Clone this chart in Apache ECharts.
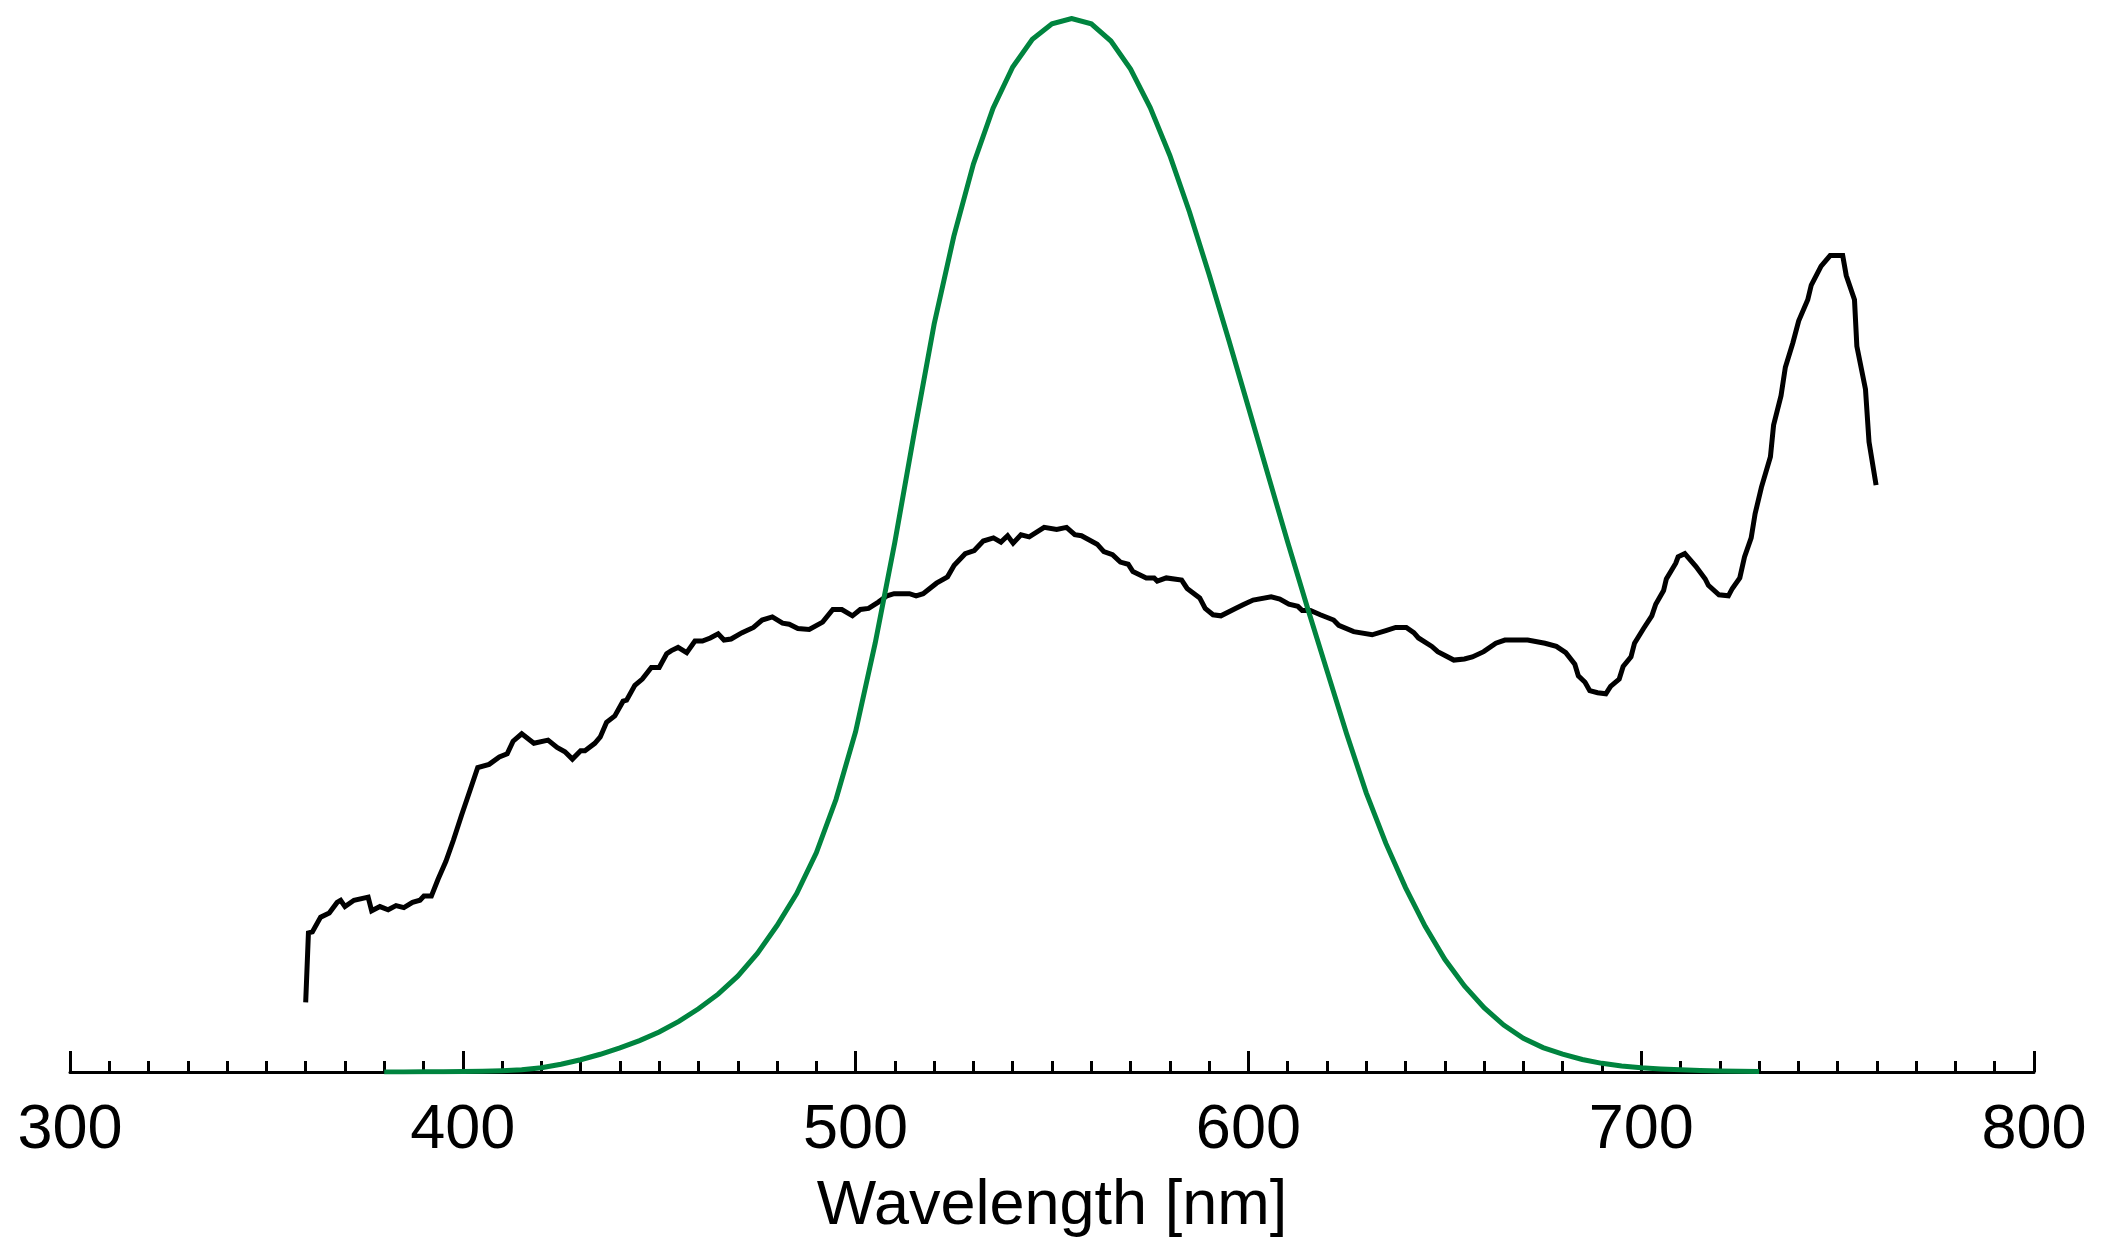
<!DOCTYPE html>
<html>
<head>
<meta charset="utf-8">
<title>Spectrum and photopic luminosity</title>
<script src="https://cdn.jsdelivr.net/npm/echarts@6/dist/echarts.min.js"></script>
<style>
  html, body { margin: 0; padding: 0; background: #ffffff; }
  #chart { width: 2117px; height: 1243px; }
</style>
</head>
<body>
<div id="chart"></div>
<script>
// Measured spectrum (relative units), wavelength in nm
const spectrumWavelength = [
  360.0, 360.7, 361.7, 363.8, 366.0, 368.0, 368.9, 370.0, 372.3, 375.9,
  376.8, 378.9, 381.0, 383.0, 385.0, 387.2, 389.1, 390.1, 392.0, 393.7,
  395.7, 397.6, 399.7, 401.8, 403.8, 406.7, 409.3, 411.3, 412.8, 415.0,
  418.1, 421.7, 424.0, 426.0, 427.9, 430.0, 431.1, 433.6, 435.0, 436.6,
  438.7, 440.8, 441.7, 443.8, 445.7, 448.0, 450.0, 451.9, 453.1, 454.8,
  457.0, 459.1, 461.0, 463.0, 465.0, 466.5, 468.3, 471.1, 474.0, 476.2,
  478.8, 481.4, 483.1, 485.3, 488.2, 491.6, 494.2, 496.5, 499.2, 501.2,
  503.3, 505.8, 508.0, 509.8, 513.7, 515.4, 517.2, 520.6, 523.4, 525.1,
  527.9, 530.2, 532.5, 535.1, 537.0, 538.7, 540.1, 542.1, 544.2, 548.0,
  551.2, 553.7, 555.8, 557.5, 561.5, 563.2, 565.4, 567.4, 569.4, 570.6,
  574.0, 576.0, 576.8, 579.1, 583.0, 584.4, 587.6, 589.0, 591.0, 593.0,
  596.7, 598.9, 601.2, 605.8, 608.0, 610.3, 612.6, 613.7, 615.8, 618.3,
  621.7, 623.0, 626.8, 631.5, 635.0, 637.5, 640.2, 642.1, 643.3, 646.7,
  648.2, 652.3, 655.0, 657.0, 659.9, 663.0, 665.3, 671.1, 675.5, 678.4,
  680.8, 683.1, 684.0, 685.7, 686.9, 688.9, 691.0, 692.2, 694.4, 695.4,
  697.4, 698.3, 700.6, 702.7, 703.7, 705.7, 706.4, 708.8, 709.4, 711.1,
  713.9, 716.3, 717.1, 719.8, 722.2, 723.2, 725.1, 726.3, 728.0, 729.0,
  730.6, 732.9, 733.7, 735.6, 736.7, 738.6, 740.1, 742.4, 743.3, 745.8,
  748.1, 751.3, 752.2, 754.3, 754.9, 757.1, 758.0, 759.8
];
const spectrumValue = [
  0.066, 0.132, 0.133, 0.147, 0.151, 0.161, 0.163, 0.157, 0.163, 0.166,
  0.153, 0.157, 0.154, 0.158, 0.156, 0.161, 0.163, 0.167, 0.167, 0.183,
  0.200, 0.220, 0.244, 0.267, 0.289, 0.292, 0.299, 0.302, 0.314, 0.321,
  0.312, 0.315, 0.308, 0.304, 0.297, 0.305, 0.305, 0.312, 0.318, 0.332,
  0.338, 0.352, 0.353, 0.367, 0.373, 0.384, 0.384, 0.397, 0.400, 0.403,
  0.398, 0.409, 0.409, 0.412, 0.416, 0.410, 0.411, 0.417, 0.422, 0.429,
  0.432, 0.426, 0.425, 0.421, 0.420, 0.427, 0.439, 0.439, 0.433, 0.439,
  0.440, 0.446, 0.452, 0.454, 0.454, 0.452, 0.454, 0.464, 0.470, 0.481,
  0.492, 0.495, 0.504, 0.507, 0.503, 0.509, 0.502, 0.510, 0.508, 0.517,
  0.515, 0.517, 0.510, 0.509, 0.501, 0.494, 0.491, 0.484, 0.482, 0.475,
  0.469, 0.469, 0.466, 0.469, 0.467, 0.459, 0.450, 0.440, 0.434, 0.433,
  0.440, 0.444, 0.448, 0.451, 0.449, 0.444, 0.442, 0.438, 0.438, 0.434,
  0.429, 0.424, 0.418, 0.415, 0.419, 0.422, 0.422, 0.417, 0.412, 0.404,
  0.399, 0.391, 0.392, 0.394, 0.399, 0.407, 0.410, 0.410, 0.407, 0.404,
  0.398, 0.387, 0.376, 0.370, 0.362, 0.360, 0.359, 0.366, 0.373, 0.385,
  0.394, 0.407, 0.421, 0.433, 0.444, 0.457, 0.468, 0.483, 0.489, 0.492,
  0.480, 0.468, 0.462, 0.453, 0.452, 0.459, 0.469, 0.489, 0.507, 0.530,
  0.555, 0.584, 0.614, 0.642, 0.669, 0.692, 0.713, 0.733, 0.747, 0.765,
  0.775, 0.775, 0.756, 0.733, 0.689, 0.648, 0.598, 0.557
];

// Photopic luminosity function V(λ), 5 nm steps
const luminosityWavelength = [
  380, 385, 390, 395, 400, 405, 410, 415, 420, 425,
  430, 435, 440, 445, 450, 455, 460, 465, 470, 475,
  480, 485, 490, 495, 500, 505, 510, 515, 520, 525,
  530, 535, 540, 545, 550, 555, 560, 565, 570, 575,
  580, 585, 590, 595, 600, 605, 610, 615, 620, 625,
  630, 635, 640, 645, 650, 655, 660, 665, 670, 675,
  680, 685, 690, 695, 700, 705, 710, 715, 720, 725,
  730
];
const luminosityValue = [
  0.000039, 0.000064, 0.00012, 0.000217, 0.000396, 0.00064, 0.00121, 0.00218, 0.004, 0.0073,
  0.0116, 0.01684, 0.023, 0.0298, 0.038, 0.048, 0.06, 0.0739, 0.09098, 0.1126,
  0.13902, 0.1693, 0.20802, 0.2586, 0.323, 0.4073, 0.503, 0.6082, 0.71, 0.7932,
  0.862, 0.91485, 0.954, 0.9803, 0.99495, 1.0, 0.995, 0.9786, 0.952, 0.9154,
  0.87, 0.8163, 0.757, 0.6949, 0.631, 0.5668, 0.503, 0.4412, 0.381, 0.321,
  0.265, 0.217, 0.175, 0.1382, 0.107, 0.0816, 0.061, 0.04458, 0.032, 0.0232,
  0.017, 0.01192, 0.00821, 0.005723, 0.004102, 0.002929, 0.002091, 0.001484, 0.001047, 0.00074,
  0.00052
];

// Axis range and labels
const axisMin = 300;
const axisMax = 800;
const axisStep = 100;
const axisTitle = 'Wavelength [nm]';

const pair = (xs, ys) => xs.map((x, i) => [x, ys[i]]);

const chart = echarts.init(document.getElementById('chart'), null, { renderer: 'canvas' });
const fontFamily = '"Liberation Sans", Arial, Helvetica, sans-serif';

chart.setOption({
  animation: false,
  backgroundColor: '#ffffff',
  grid: { left: 70, right: 83, top: 18.5, bottom: 166, containLabel: false },
  xAxis: {
    type: 'value',
    min: axisMin,
    max: axisMax,
    interval: axisStep,
    name: axisTitle,
    nameLocation: 'middle',
    nameGap: 103,
    nameTextStyle: { color: '#000', fontSize: 63, fontFamily: fontFamily },
    axisLine: { show: true, onZero: false, lineStyle: { color: '#000', width: 3 } },
    axisTick: { show: true, inside: true, length: 21, lineStyle: { color: '#000', width: 3 } },
    minorTick: { show: true, splitNumber: 10, length: 11, lineStyle: { color: '#000', width: 3 } },
    axisLabel: { color: '#000', fontSize: 63, fontFamily: fontFamily, margin: 27 },
    splitLine: { show: false },
    minorSplitLine: { show: false }
  },
  yAxis: {
    type: 'value',
    min: 0,
    max: 1,
    show: false
  },
  series: [
    {
      name: 'Spectrum',
      type: 'line',
      data: pair(spectrumWavelength, spectrumValue),
      showSymbol: false,
      lineStyle: { color: '#000000', width: 5, join: 'miter', cap: 'butt' },
      z: 3
    },
    {
      name: 'V(λ)',
      type: 'line',
      data: pair(luminosityWavelength, luminosityValue),
      showSymbol: false,
      lineStyle: { color: '#00843f', width: 5, join: 'miter', cap: 'butt' },
      z: 4
    }
  ]
});
</script>
</body>
</html>
